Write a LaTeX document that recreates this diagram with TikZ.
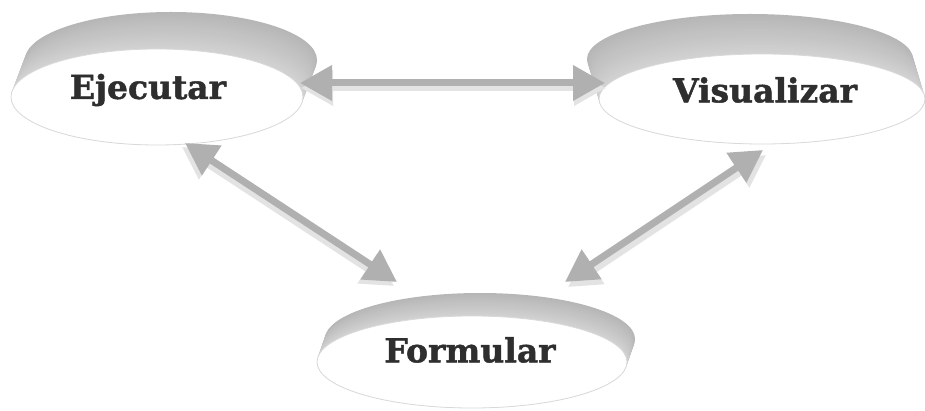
\documentclass[tikz,border=0pt]{standalone}
\usepackage{fontspec}
\setmainfont{DejaVu Serif}
\newfontfamily\lblfont{DejaVu Serif}[BoldFeatures={FakeBold=1.4}]
\usetikzlibrary{shapes.geometric,arrows.meta}
\tikzset{
  face/.style={ellipse, fill=white, draw=gray!30, line width=0.8pt, inner sep=0pt},
  lbl/.style={font=\lblfont\bfseries\fontsize{33}{33}\selectfont, text=black!82, inner sep=0pt},
  arrtip/.tip={Triangle[length=32pt,width=34pt]},
  arr/.style={line width=7pt, draw=gray!62, arrtip-arrtip},
  arrlight/.style={line width=7pt, draw=gray!22, arrtip-arrtip},
}
\newcommand\rimdisk[6]{%
  \foreach \i in {0,...,30}{%
    \pgfmathsetmacro\t{1-\i/30}%
    \pgfmathsetmacro\c{35+22*\t}%
    \fill[gray!\c] (#1+\t*#5, #2+\t*#6) ellipse [x radius=#3pt, y radius=#4pt];
  }}
\begin{document}
\begin{tikzpicture}[x=1pt,y=-1pt]
  \clip (0,0) rectangle (925,411);
  \fill[white] (0,0) rectangle (925,411);
  % disks
  \rimdisk{157}{97}{146}{48}{14}{-37}
  \node[face, minimum width=292pt, minimum height=96pt] (ej) at (157,97) {};
  \rimdisk{762}{99}{163}{45}{-12}{-40}
  \node[face, minimum width=326pt, minimum height=90pt] (vi) at (762,99) {};
  \rimdisk{472}{362}{155}{46}{8}{-23}
  \node[face, minimum width=310pt, minimum height=92pt] (fo) at (472,362) {};
  % labels
  \node[lbl] (ejt) at (148,90) {Ejecutar};
  \node[lbl] (vit) at (765,90) {Visualizar};
  \node[lbl] (fot) at (470,350) {Formular};
  % arrow ends
  \coordinate (h1) at (300,83);
  \coordinate (h2) at (605,83);
  \coordinate (l1) at (185,143);
  \coordinate (l2) at (397,282);
  \coordinate (r1) at (565,282);
  \coordinate (r2) at (763,150);
  % arrows
  \draw[arrlight] ([shift={(1,5)}]h1) -- ([shift={(1,5)}]h2);
  \draw[arr] (h1) -- (h2);
  \draw[arrlight] ([shift={(-3,4)}]l1) -- ([shift={(-3,4)}]l2);
  \draw[arr] (l1) -- (l2);
  \draw[arrlight] ([shift={(3,5)}]r1) -- ([shift={(3,5)}]r2);
  \draw[arr] (r1) -- (r2);
\end{tikzpicture}
\end{document}
